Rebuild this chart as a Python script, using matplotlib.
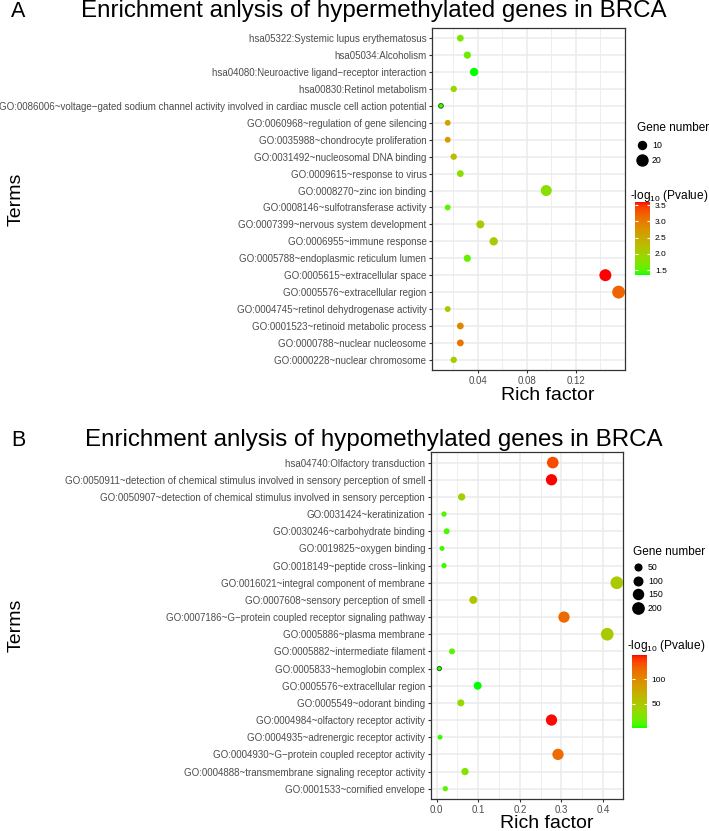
import numpy as np
import matplotlib.pyplot as plt
from matplotlib.colors import ListedColormap, Normalize
from matplotlib.lines import Line2D

plt.rcParams['font.family'] = ['Liberation Sans', 'DejaVu Sans']
plt.rcParams['mathtext.fontset'] = 'custom'
plt.rcParams['mathtext.rm'] = 'Liberation Sans'
plt.rcParams['mathtext.it'] = 'Liberation Sans:italic'

# ---- panel A: hypermethylated genes (top to bottom) ----
terms_a = [
    "hsa05322:Systemic lupus erythematosus",
    "hsa05034:Alcoholism",
    "hsa04080:Neuroactive ligand\u2212receptor interaction",
    "hsa00830:Retinol metabolism",
    "GO:0086006~voltage\u2212gated sodium channel activity involved in cardiac muscle cell action potential",
    "GO:0060968~regulation of gene silencing",
    "GO:0035988~chondrocyte proliferation",
    "GO:0031492~nucleosomal DNA binding",
    "GO:0009615~response to virus",
    "GO:0008270~zinc ion binding",
    "GO:0008146~sulfotransferase activity",
    "GO:0007399~nervous system development",
    "GO:0006955~immune response",
    "GO:0005788~endoplasmic reticulum lumen",
    "GO:0005615~extracellular space",
    "GO:0005576~extracellular region",
    "GO:0004745~retinol dehydrogenase activity",
    "GO:0001523~retinoid metabolic process",
    "GO:0000788~nuclear nucleosome",
    "GO:0000228~nuclear chromosome",
]
rich_a = [0.0258, 0.0315, 0.037, 0.0204, 0.010, 0.0155, 0.0155, 0.0204, 0.0258, 0.0958,
          0.0155, 0.0421, 0.053, 0.0315, 0.144, 0.1548, 0.0155, 0.0258, 0.0258, 0.0204]
count_a = [7, 8, 11, 6, 3, 5, 5, 6, 7, 20, 5, 10, 11, 8, 24, 28, 5, 7, 7, 6]
logp_a = [1.69, 1.62, 1.35, 1.92, 1.46, 2.59, 2.66, 2.25, 1.80, 1.80,
          1.53, 2.03, 2.07, 1.58, 3.61, 3.20, 2.14, 2.89, 3.07, 2.03]

# ---- panel B: hypomethylated genes (top to bottom) ----
terms_b = [
    "hsa04740:Olfactory transduction",
    "GO:0050911~detection of chemical stimulus involved in sensory perception of smell",
    "GO:0050907~detection of chemical stimulus involved in sensory perception",
    "GO:0031424~keratinization",
    "GO:0030246~carbohydrate binding",
    "GO:0019825~oxygen binding",
    "GO:0018149~peptide cross\u2212linking",
    "GO:0016021~integral component of membrane",
    "GO:0007608~sensory perception of smell",
    "GO:0007186~G\u2212protein coupled receptor signaling pathway",
    "GO:0005886~plasma membrane",
    "GO:0005882~intermediate filament",
    "GO:0005833~hemoglobin complex",
    "GO:0005576~extracellular region",
    "GO:0005549~odorant binding",
    "GO:0004984~olfactory receptor activity",
    "GO:0004935~adrenergic receptor activity",
    "GO:0004930~G\u2212protein coupled receptor activity",
    "GO:0004888~transmembrane signaling receptor activity",
    "GO:0001533~cornified envelope",
]
rich_b = [0.279, 0.276, 0.060, 0.0176, 0.024, 0.0128, 0.0176, 0.433, 0.088, 0.306,
          0.410, 0.0368, 0.0064, 0.0985, 0.058, 0.276, 0.008, 0.2916, 0.068, 0.0207]
count_b = [215, 200, 64, 24, 36, 20, 24, 266, 82, 200,
           266, 36, 11, 82, 57, 200, 20, 200, 64, 24]
logp_b = [133, 148, 45, 10, 10, 8, 8, 50, 53, 119,
          50, 13, 6, 1.4, 38, 147, 7, 118, 28, 13]

# ggplot-style green -> red gradient (interpolated in CIE Lab)
M = np.array([[0.4124, 0.3576, 0.1805], [0.2126, 0.7152, 0.0722], [0.0193, 0.1192, 0.9505]])
WHITE = np.array([0.95047, 1.0, 1.08883])


def to_lab(c):
    c = np.asarray(c, float)
    lin = np.where(c <= 0.04045, c / 12.92, ((c + 0.055) / 1.055) ** 2.4)
    xyz = M @ lin / WHITE
    f = np.where(xyz > 0.008856, np.cbrt(xyz), 7.787 * xyz + 16 / 116)
    return np.array([116 * f[1] - 16, 500 * (f[0] - f[1]), 200 * (f[1] - f[2])])


def from_lab(lab):
    L, a, b = lab
    fy = (L + 16) / 116
    f = np.array([fy + a / 500, fy, fy - b / 200])
    xyz = np.where(f ** 3 > 0.008856, f ** 3, (f - 16 / 116) / 7.787) * WHITE
    lin = np.clip(np.linalg.inv(M) @ xyz, 0, 1)
    c = np.where(lin <= 0.0031308, 12.92 * lin, 1.055 * lin ** (1 / 2.4) - 0.055)
    return np.clip(c, 0, 1)


lo, hi = to_lab([0, 1, 0]), to_lab([1, 0, 0])
cmap = ListedColormap([from_lab(lo + t * (hi - lo)) for t in np.linspace(0, 1, 256)])

W, H = 709, 831


def draw_panel(box, terms, rich, count, logp, xlim, xmaj, xlabels, xmin, size_ab, leg_sizes,
               leg_space, cticks, title, letter, title_base, leg_xy, cbar_box, cbar_title_gap):
    # box = (left, top, right, bottom) in pixels
    l, t, r, btm = box
    ax = fig.add_axes([l / W, 1 - btm / H, (r - l) / W, (btm - t) / H])
    n = len(terms)
    ypos = np.arange(n)[::-1]
    a, b = size_ab
    cnt = np.array(count, float)
    diam = a + b * np.sqrt(cnt)  # pixels
    norm = Normalize(min(logp), max(logp))
    # the smallest dots show a dark rim in the original
    edges = ['#1f6f1f' if c == cnt.min() else 'none' for c in cnt]
    sc = ax.scatter(rich, ypos, s=(diam * 0.72) ** 2, c=logp, cmap=cmap, norm=norm,
                    edgecolors=edges, linewidths=0.7, zorder=3)
    ax.set_xlim(xlim)
    ax.set_ylim(-0.6, n - 0.4)
    ax.set_yticks(ypos)
    ax.set_yticklabels(terms)
    ax.set_xticks(xmaj)
    ax.set_xticklabels(xlabels)
    ax.set_xticks(xmin, minor=True)
    ax.grid(True, which='major', color='#EBEBEB', lw=1.1, zorder=0)
    ax.grid(True, which='minor', axis='x', color='#EBEBEB', lw=0.6, zorder=0)
    ax.set_axisbelow(True)
    ax.tick_params(which='major', labelsize=7, labelcolor='#4D4D4D', color='#333333',
                   length=2.5, width=0.8, pad=1.5)
    ax.tick_params(which='minor', length=0)
    for s in ax.spines.values():
        s.set_color('#333333')
        s.set_linewidth(0.9)

    fig.text((l + 0.6 * (r - l)) / W, 1 - (btm + 16.5) / H, 'Rich factor', fontsize=14,
             ha='center', va='top')
    fig.text(16 / W, 1 - (t + btm) / 2 / H, 'Terms', rotation=90, fontsize=14,
             ha='center', va='center')
    fig.text(374 / W, 1 - title_base / H, title, fontsize=17.4, ha='center', va='baseline')
    fig.text(11 / W, 1 - title_base / H, letter, fontsize=15.5, ha='left', va='baseline')

    handles = [Line2D([], [], marker='o', ls='', color='black',
                      markersize=(a + b * np.sqrt(v)) * 0.72) for v in leg_sizes]
    leg = fig.legend(handles, [str(v) for v in leg_sizes], title='Gene number',
                     loc='upper left', bbox_to_anchor=(leg_xy[0] / W, 1 - leg_xy[1] / H),
                     frameon=False, fontsize=6.3, title_fontsize=8.5, handletextpad=0.5,
                     labelspacing=leg_space, borderaxespad=0, borderpad=0, handlelength=1.2)
    leg._legend_box.align = 'left'

    cl, ct, cr, cbm = cbar_box
    cax = fig.add_axes([cl / W, 1 - cbm / H, (cr - cl) / W, (cbm - ct) / H])
    cb = fig.colorbar(sc, cax=cax, ticks=cticks)
    cb.outline.set_visible(False)
    cax.tick_params(labelsize=6, color='white', length=2.5, width=0.8,
                    direction='in', pad=3.5, left=True)
    fig.text((cl - 5) / W, 1 - (ct - cbar_title_gap) / H, r'-log$_{10}$ (Pvalue)',
             fontsize=8.6, ha='left', va='baseline')
    return ax


fig = plt.figure(figsize=(W / 100, H / 100), dpi=100)

draw_panel((432, 28, 625, 370),
           terms_a, rich_a, count_a, logp_a,
           (0.0027, 0.160), [0.04, 0.08, 0.12], ['0.04', '0.08', '0.12'],
           [0.02, 0.06, 0.10, 0.14],
           (0.76, 2.29), [10, 20], 0.75, [1.5, 2.0, 2.5, 3.0, 3.5],
           'Enrichment anlysis of hypermethylated genes in BRCA', 'A', 17,
           (637, 122), (635, 201.7, 650, 275), 3)

draw_panel((430.7, 452.3, 623.3, 799),
           terms_b, rich_b, count_b, logp_b,
           (-0.0144, 0.4486), [0.0, 0.1, 0.2, 0.3, 0.4], ['0.0', '0.1', '0.2', '0.3', '0.4'],
           [0.05, 0.15, 0.25, 0.35],
           (2.1, 0.65), [50, 100, 150, 200], 0.55, [50, 100],
           'Enrichment anlysis of hypomethylated genes in BRCA', 'B', 446,
           (633, 546), (632.3, 655, 646.7, 728.3), 6)

fig.savefig('out.png', dpi=100)
